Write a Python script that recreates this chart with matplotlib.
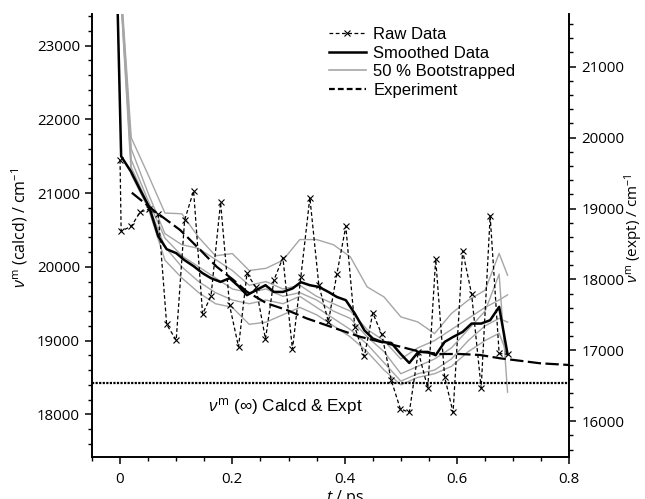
import matplotlib
matplotlib.use("Agg")
import matplotlib.pyplot as plt
from matplotlib.ticker import MultipleLocator
from matplotlib.lines import Line2D

plt.rcParams['mathtext.fontset'] = 'custom'
plt.rcParams['mathtext.rm'] = 'Open Sans'
plt.rcParams['mathtext.it'] = 'Open Sans:italic'
plt.rcParams['mathtext.bf'] = 'Open Sans:bold'

# ---- data ----
t_raw = [0.000, 0.002, 0.020, 0.036, 0.052, 0.068, 0.083, 0.100, 0.115, 0.131,
         0.147, 0.162, 0.179, 0.195, 0.211, 0.226, 0.242, 0.259, 0.274, 0.290,
         0.307, 0.322, 0.338, 0.354, 0.371, 0.386, 0.402, 0.418, 0.435, 0.450,
         0.466, 0.483, 0.499, 0.515, 0.531, 0.548, 0.562, 0.578, 0.593, 0.610,
         0.626, 0.643, 0.659, 0.675, 0.690]
v_raw = [21450, 20485, 20550, 20745, 20780, 20715, 19220, 19005, 20635, 21030,
         19360, 19605, 20875, 19480, 18915, 19910, 19720, 19020, 19820, 20125,
         18880, 19865, 20940, 19750, 19255, 19900, 20550, 19185, 18785, 19375,
         19085, 18460, 18075, 18025, 18850, 18355, 20105, 18505, 18025, 20215,
         19630, 18355, 20690, 18825, 18815]

t_smooth = [-0.009, 0.002, 0.020, 0.036, 0.052, 0.068, 0.083, 0.100, 0.115, 0.131,
            0.147, 0.162, 0.179, 0.195, 0.211, 0.226, 0.242, 0.259, 0.274, 0.290,
            0.307, 0.322, 0.338, 0.354, 0.371, 0.386, 0.402, 0.418, 0.435, 0.450,
            0.466, 0.483, 0.499, 0.515, 0.531, 0.548, 0.562, 0.578, 0.593, 0.610,
            0.626, 0.643, 0.659, 0.675, 0.690]
v_smooth = [25000, 21500, 21285, 21041, 20810, 20416, 20240, 20186, 20090, 20009,
            19914, 19846, 19796, 19846, 19738, 19616, 19683, 19751, 19660, 19660,
            19706, 19792, 19751, 19728, 19660, 19592, 19548, 19367, 19140, 19028,
            18982, 18968, 18824, 18696, 18846, 18846, 18801, 18982, 19049, 19117,
            19231, 19231, 19276, 19457, 18815]

t_boot = [-0.009, 0.02, 0.05, 0.08, 0.11, 0.14, 0.17, 0.20, 0.23, 0.26, 0.29, 0.32,
          0.35, 0.38, 0.41, 0.44, 0.47, 0.50, 0.53, 0.56, 0.59, 0.62, 0.65, 0.675, 0.69]
boot_a = [25000, 21750, 21250, 20730, 20720, 20400, 20150, 20180, 19950, 19980, 20090, 20370,
          20370, 20300, 20136, 19728, 19592, 19321, 19253, 19095, 19367, 19548, 19683, 20182, 19887]
boot_b = [25000, 21600, 21000, 20450, 20300, 20250, 20100, 19950, 19750, 19800, 19700, 19750,
          19600, 19500, 19400, 19150, 19000, 18750, 18900, 19000, 19150, 19300, 19450, 19550, 19620]
boot_c = [25000, 21450, 20900, 20390, 20150, 20000, 19850, 19700, 19650, 19700, 19600, 19650,
          19550, 19400, 19300, 19050, 18850, 18550, 18650, 18750, 18900, 19150, 19400, 19900, 18300]
boot_d = [25000, 21350, 20850, 20270, 20000, 19800, 19650, 19550, 19500, 19550, 19500, 19600,
          19450, 19300, 19150, 18950, 18700, 18450, 18550, 18600, 18750, 19000, 19200, 19300, 19250]
boot_e = [25000, 21250, 20800, 20090, 19850, 19650, 19500, 19450, 19220, 19250, 19350, 19450,
          19350, 19200, 19050, 18850, 18600, 18400, 18500, 18550, 18650, 18850, 19000, 19100, 18800]

t_expt = [0.021, 0.059, 0.107, 0.143, 0.172, 0.202, 0.226, 0.261, 0.297, 0.332, 0.392,
          0.427, 0.463, 0.499, 0.534, 0.570, 0.605, 0.641, 0.677, 0.712, 0.748, 0.800]
v_expt = [19223, 18979, 18697, 18415, 18180, 17992, 17827, 17664, 17569, 17452, 17287,
          17193, 17122, 17052, 16981, 16949, 16949, 16935, 16888, 16854, 16818, 16794]

v_inf_calcd = 18421

xticks = [0, 0.2, 0.4, 0.6, 0.8]
xticklabels = ["0", "0.2", "0.4", "0.6", "0.8"]
yticks_left = [18000, 19000, 20000, 21000, 22000, 23000]
yticks_right = [16000, 17000, 18000, 19000, 20000, 21000]

# ---- figure ----
fig = plt.figure(figsize=(6.45, 4.99), dpi=100)
ax = fig.add_axes([0.1422, 0.0842, 0.7405, 0.8878])
ax2 = ax.twinx()

gray = '#a6a6a6'
for b in (boot_a, boot_b, boot_c, boot_d, boot_e):
    ax.plot(t_boot, b, color=gray, lw=1.0, zorder=2)
ax.plot(t_smooth, v_smooth, color='black', lw=1.8, zorder=4)
ax.plot(t_raw, v_raw, color='black', lw=0.9, ls=(0, (3, 2)), marker='x',
        ms=5, mew=0.8, zorder=5)
ax.axhline(v_inf_calcd, color='black', lw=1.6, ls=(0, (1, 0.6)), zorder=3)
ax2.plot(t_expt, v_expt, color='black', lw=1.6, ls=(0, (6, 2)), zorder=4)

ax.set_xlim(-0.0504, 0.8)
ax.set_ylim(17421, 23430)
ax2.set_ylim(15497, 21743)

tick_font = dict(family='Open Sans', size=10.8)
ax.set_xticks(xticks)
ax.set_xticklabels(xticklabels, fontdict=tick_font)
ax.xaxis.set_minor_locator(MultipleLocator(0.05))
ax.set_yticks(yticks_left)
ax.set_yticklabels([str(v) for v in yticks_left], fontdict=tick_font)
ax.yaxis.set_minor_locator(MultipleLocator(200))
ax2.set_yticks(yticks_right)
ax2.set_yticklabels([str(v) for v in yticks_right], fontdict=tick_font)
ax2.yaxis.set_minor_locator(MultipleLocator(200))

for a in (ax, ax2):
    a.spines['top'].set_visible(False)
    for s in a.spines.values():
        s.set_linewidth(1.2)
    a.tick_params(which='major', length=5, width=1.1, direction='out')
    a.tick_params(which='minor', length=3, width=1.0, direction='out')
ax.tick_params(axis='y', pad=3.5)
ax.tick_params(axis='x', pad=6)
ax2.tick_params(axis='y', pad=3.5)

label_font = dict(family='Open Sans', size=11.5)
fig.text(20 / 645, 1 - 228 / 499, r'$\nu^{\mathrm{m}}$ (calcd) / cm$^{-1}$',
         rotation=90, ha='center', va='center', **label_font)
fig.text(634 / 645, 1 - 228 / 499, r'$\nu^{\mathrm{m}}$ (expt) / cm$^{-1}$',
         rotation=90, ha='center', va='center', family='Open Sans', size=11)
fig.text(345 / 645, 1 - 502 / 499, r'$t$ / ps', ha='center', va='baseline', **label_font)

ax.text(0.156, 18108, r'$\nu^{\mathrm{m}}$ (∞) Calcd & Expt', ha='left', va='center',
        family='Liberation Sans', size=12.3)

handles = [
    Line2D([], [], color='black', lw=0.9, ls=(0, (3, 2)), marker='x', ms=5, mew=0.8),
    Line2D([], [], color='black', lw=1.8),
    Line2D([], [], color=gray, lw=1.2),
    Line2D([], [], color='black', lw=1.6, ls=(0, (2.6, 1.4))),
]
labels = ["Raw Data", "Smoothed Data", "50 % Bootstrapped", "Experiment"]
leg = ax.legend(handles, labels, loc='upper left', bbox_to_anchor=(329 / 645, 1 - 27 / 499),
                bbox_transform=fig.transFigure, frameon=False, handlelength=2.2,
                handletextpad=0.45, labelspacing=0.22, borderpad=0, borderaxespad=0,
                prop=dict(family='Liberation Sans', size=12), numpoints=1)
leg.set_zorder(10)

fig.savefig('out.png', dpi=100)
